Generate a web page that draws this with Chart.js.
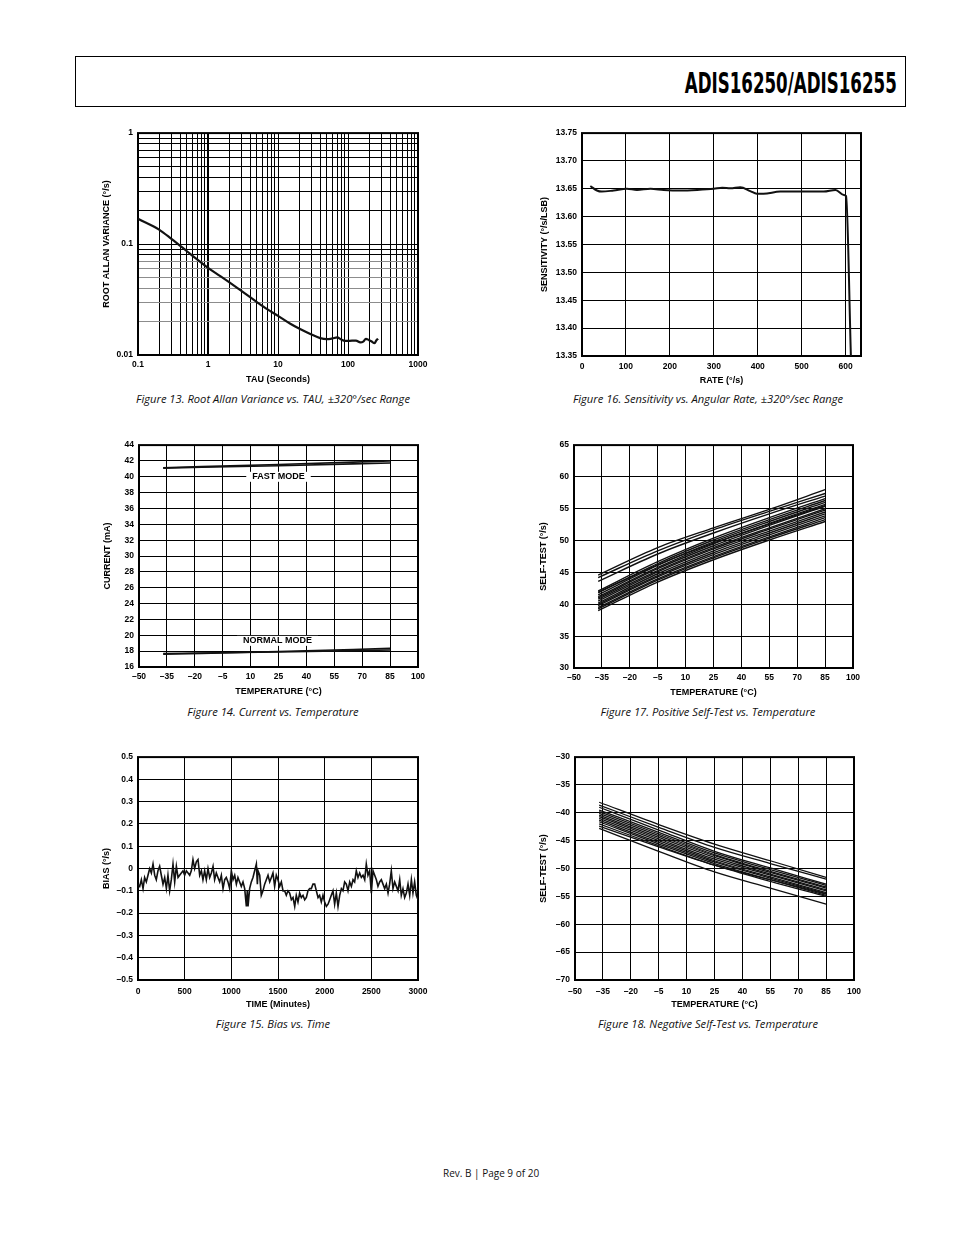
<!DOCTYPE html>
<html>
<head>
<meta charset="utf-8">
<script src="https://cdn.jsdelivr.net/npm/chart.js@4.4.1/dist/chart.umd.min.js"></script>
<style>
  body { margin: 0; background: #fff; }
  #page { position: relative; width: 954px; height: 1235px; overflow: hidden; background: #fff; }
  #header { position: absolute; left: 75px; top: 56px; width: 829px; height: 49px; border: 1px solid #000; }
  #doc-title { position: absolute; right: 8px; top: 12px; white-space: nowrap;
    font: bold 29px/29px "Liberation Sans Narrow", "DejaVu Sans Condensed", "Liberation Sans", sans-serif;
    transform-origin: right center; color: #000; }
  canvas { position: absolute; }
  .cap { position: absolute; transform: translateX(-50%); white-space: nowrap; color: #111;
    font: italic 11.2px/14px "Open Sans", "Noto Sans", sans-serif; }
  #footer { position: absolute; left: 443px; top: 1166px; white-space: nowrap; color: #111;
    font: 10px/14px "Open Sans", "Noto Sans", sans-serif; }
</style>
</head>
<body>
<div id="page">
  <div id="header"><span id="doc-title">ADIS16250/ADIS16255</span></div>

  <canvas id="allanChart"></canvas>
  <canvas id="sensChart"></canvas>
  <canvas id="currentChart"></canvas>
  <canvas id="posChart"></canvas>
  <canvas id="biasChart"></canvas>
  <canvas id="negChart"></canvas>

  <div class="cap" style="left:273px;top:392px">Figure 13. Root Allan Variance vs. TAU, ±320°/sec Range</div>
  <div class="cap" style="left:708px;top:392px">Figure 16. Sensitivity vs. Angular Rate, ±320°/sec Range</div>
  <div class="cap" style="left:273px;top:705px">Figure 14. Current vs. Temperature</div>
  <div class="cap" style="left:708px;top:705px">Figure 17. Positive Self-Test vs. Temperature</div>
  <div class="cap" style="left:273px;top:1017px">Figure 15. Bias vs. Time</div>
  <div class="cap" style="left:708px;top:1017px">Figure 18. Negative Self-Test vs. Temperature</div>

  <div id="footer">Rev. B | Page 9 of 20</div>
</div>

<script>
// ---- data ----

// Figure 13: root Allan variance
const tauSeconds = [0.1, 0.2, 0.3, 0.5, 0.7, 1, 1.5, 2, 3, 5, 7, 10, 15, 20, 30, 40, 50, 60,
  70, 80, 90, 100, 130, 150, 165, 180, 200, 215, 240, 255, 270];
const allanDev = [0.169, 0.135, 0.1114, 0.0861, 0.0726, 0.061, 0.0514, 0.0453, 0.0378, 0.030, 0.0259,
  0.0225, 0.0191, 0.0173, 0.0153, 0.0142, 0.0139, 0.0141, 0.0144, 0.0138, 0.0134, 0.0134, 0.0135,
  0.013, 0.0132, 0.014, 0.0136, 0.0133, 0.0128, 0.0136, 0.014];
const tauTicks = [0.1, 0.2, 0.3, 0.4, 0.5, 0.6, 0.7, 0.8, 0.9, 1, 2, 3, 4, 5, 6, 7, 8, 9,
  10, 20, 30, 40, 50, 60, 70, 80, 90, 100, 200, 300, 400, 500, 600, 700, 800, 900, 1000];
const tauLabels = [0.1, 1, 10, 100, 1000];
const allanTicks = [0.01, 0.02, 0.03, 0.04, 0.05, 0.06, 0.07, 0.08, 0.09,
  0.1, 0.2, 0.3, 0.4, 0.5, 0.6, 0.7, 0.8, 0.9, 1];
const allanLabels = [0.01, 0.1, 1];

// Figure 16: sensitivity vs. rate
const rateDps = [19, 34, 45, 72, 102, 125, 156, 186, 224, 262, 300, 319, 338, 360, 383, 398, 413, 451,
  489, 550, 577, 596, 601, 612];
const sensitivity = [13.655, 13.647, 13.645, 13.647, 13.650, 13.648, 13.650, 13.648, 13.647, 13.648,
  13.650, 13.652, 13.651, 13.653, 13.646, 13.641, 13.641, 13.645, 13.645, 13.645, 13.648, 13.639,
  13.637, 13.35];
const rateTicks = [0, 100, 200, 300, 400, 500, 600];
const sensTicks = [13.35, 13.40, 13.45, 13.50, 13.55, 13.60, 13.65, 13.70, 13.75];

// Figure 14: supply current
const currentTemps = [-37, 25, 85];
const fastModeA = [41.1, 41.4, 41.75];
const fastModeB = [41.15, 41.55, 42.0];
const normalModeA = [17.6, 17.95, 18.35];
const normalModeB = [17.7, 17.9, 18.15];
const currentTicks = [16, 18, 20, 22, 24, 26, 28, 30, 32, 34, 36, 38, 40, 42, 44];

// Figures 17 and 18: self-test, one row per device
const selfTestTemps = [-37, -5, 25, 55, 85];
const posSelfTest = [
  [44.6, 48.9, 52.0, 54.9, 58.0],
  [44.2, 48.4, 51.7, 54.6, 57.4],
  [43.6, 47.9, 51.2, 54.2, 57.0],
  [42.1, 46.7, 50.4, 53.6, 56.6],
  [41.9, 46.2, 49.6, 52.6, 55.5],
  [41.8, 46.4, 50.1, 53.3, 56.3],
  [41.5, 46.1, 49.8, 53.0, 56.0],
  [41.2, 45.8, 49.5, 52.7, 55.7],
  [41.0, 45.6, 49.2, 52.4, 55.4],
  [40.8, 45.3, 48.9, 52.0, 55.0],
  [40.5, 45.1, 48.7, 51.8, 54.8],
  [40.2, 44.8, 48.4, 51.5, 54.5],
  [40.0, 44.5, 48.1, 51.2, 54.2],
  [39.8, 44.3, 47.8, 50.9, 53.9],
  [39.5, 44.0, 47.5, 50.6, 53.6],
  [39.3, 43.8, 47.3, 50.4, 53.3],
  [39.0, 43.5, 47.0, 50.1, 53.0]
];
const negSelfTest = [
  [-38.1, -42.1, -45.6, -48.6, -51.6],
  [-38.6, -42.6, -46.2, -49.1, -51.9],
  [-39.0, -43.1, -46.9, -49.9, -52.8],
  [-39.5, -43.5, -47.2, -50.2, -53.0],
  [-39.8, -43.8, -47.5, -50.5, -53.3],
  [-40.1, -44.1, -47.7, -50.7, -53.5],
  [-40.4, -44.4, -48.0, -51.0, -53.8],
  [-40.7, -44.7, -48.3, -51.2, -54.0],
  [-41.0, -45.0, -48.6, -51.5, -54.3],
  [-41.3, -45.3, -48.8, -51.7, -54.5],
  [-41.6, -45.6, -49.1, -52.0, -54.8],
  [-42.0, -45.9, -49.4, -52.3, -55.0],
  [-42.4, -46.1, -49.4, -52.0, -54.6],
  [-42.8, -46.9, -50.6, -53.5, -56.4]
];
const tempTicks = [-50, -35, -20, -5, 10, 25, 40, 55, 70, 85, 100];
const posTicks = [30, 35, 40, 45, 50, 55, 60, 65];
const negTicks = [-70, -65, -60, -55, -50, -45, -40, -35, -30];

// Figure 15: bias drift
const timeMin = [
  0, 18, 36, 54, 71, 89, 107, 125, 143, 161,
  179, 196, 214, 232, 250, 268, 286, 304, 321, 339,
  357, 375, 393, 411, 429, 446, 464, 482, 500, 518,
  536, 554, 571, 589, 607, 625, 643, 661, 679, 696,
  714, 732, 750, 768, 786, 804, 821, 839, 857, 875,
  893, 911, 929, 946, 964, 982, 1000, 1018, 1036, 1054,
  1071, 1089, 1107, 1125, 1143, 1161, 1171, 1179, 1196, 1214,
  1232, 1250, 1268, 1279, 1286, 1304, 1321, 1339, 1357, 1375,
  1393, 1411, 1429, 1446, 1464, 1482, 1500, 1518, 1536, 1554,
  1571, 1589, 1607, 1625, 1643, 1661, 1679, 1696, 1714, 1732,
  1750, 1768, 1786, 1804, 1821, 1839, 1857, 1875, 1893, 1911,
  1929, 1946, 1964, 1982, 2000, 2018, 2036, 2054, 2071, 2089,
  2107, 2125, 2143, 2161, 2179, 2196, 2214, 2232, 2250, 2268,
  2286, 2304, 2321, 2339, 2357, 2375, 2393, 2411, 2429, 2446,
  2464, 2482, 2500, 2518, 2536, 2554, 2571, 2589, 2607, 2625,
  2643, 2661, 2679, 2696, 2714, 2732, 2750, 2768, 2786, 2804,
  2821, 2839, 2857, 2875, 2893, 2911, 2929, 2946, 2964, 2982,
  3000
];
const biasDps = [
  -0.07, -0.08, -0.05, -0.09, -0.04, -0.06, -0.03, 0.00, -0.02, 0.02,
  -0.03, -0.05, -0.01, 0.01, -0.03, -0.07, -0.04, -0.09, -0.03, -0.10,
  -0.05, 0.02, -0.06, 0.01, -0.04, -0.03, -0.02, -0.01, -0.03, -0.01,
  -0.02, -0.03, -0.01, 0.04, 0.00, 0.03, 0.04, -0.03, -0.01, -0.05,
  -0.01, -0.05, 0.00, -0.04, -0.02, 0.01, -0.05, -0.02, -0.04, -0.06,
  -0.03, -0.09, -0.05, -0.04, -0.06, -0.09, -0.01, -0.05, -0.03, -0.07,
  -0.04, -0.06, -0.08, -0.06, -0.09, -0.17, -0.10, -0.17, -0.09, -0.06,
  -0.04, -0.01, 0.02, -0.07, -0.01, -0.03, -0.12, -0.10, -0.07, -0.05,
  -0.03, -0.06, -0.04, -0.02, -0.08, -0.03, -0.05, -0.08, -0.06, -0.10,
  -0.10, -0.12, -0.10, -0.11, -0.14, -0.13, -0.17, -0.12, -0.15, -0.11,
  -0.13, -0.12, -0.14, -0.13, -0.10, -0.09, -0.09, -0.07, -0.07, -0.10,
  -0.13, -0.12, -0.15, -0.12, -0.15, -0.17, -0.16, -0.14, -0.12, -0.10,
  -0.16, -0.11, -0.17, -0.12, -0.09, -0.10, -0.06, -0.07, -0.10, -0.06,
  -0.08, -0.05, -0.06, -0.01, -0.04, -0.02, -0.04, -0.03, -0.05, 0.02,
  -0.03, -0.01, -0.11, -0.01, -0.03, -0.05, -0.08, -0.06, -0.05, -0.07,
  -0.09, -0.07, -0.11, -0.07, -0.01, -0.09, -0.06, -0.08, -0.10, -0.05,
  -0.12, -0.09, -0.13, -0.11, -0.07, -0.12, -0.05, -0.11, -0.06, -0.12,
  -0.14
];
const timeTicks = [0, 500, 1000, 1500, 2000, 2500, 3000];
const biasTicks = [-0.5, -0.4, -0.3, -0.2, -0.1, 0, 0.1, 0.2, 0.3, 0.4, 0.5];

// ---- layout of each canvas around its plot area ----
const AXIS_W = 50;   // room for y ticks + y title
const AXIS_H = 32;   // room for x ticks + x title
const PAD_T = 10;
const PAD_R = 20;
const FONT = '"Liberation Sans", Arial, Helvetica, sans-serif';

Chart.defaults.font.family = FONT;
Chart.defaults.color = '#000';

const dash = s => String(s).replace('-', '\u2013');
const pts = (xs, ys) => xs.map((x, i) => ({ x: x, y: ys[i] }));

// Draws the heavy frame round the plot area
const framePlugin = {
  id: 'frame',
  beforeDatasetsDraw(chart) {
    const { ctx, chartArea: a } = chart;
    ctx.save();
    ctx.strokeStyle = '#000';
    ctx.lineWidth = 2;
    ctx.strokeRect(a.left, a.top, a.right - a.left, a.bottom - a.top);
    ctx.restore();
  }
};

// In-plot labels with a white box behind them (FAST MODE / NORMAL MODE)
const notesPlugin = {
  id: 'notes',
  afterDatasetsDraw(chart, args, opts) {
    const { ctx, scales } = chart;
    (opts.items || []).forEach(n => {
      ctx.save();
      ctx.font = 'bold 9px ' + FONT;
      const w = ctx.measureText(n.text).width;
      const px = scales.x.getPixelForValue(n.x);
      const py = scales.y.getPixelForValue(n.y);
      ctx.fillStyle = '#fff';
      ctx.fillRect(px - w / 2 - 6, py - 5, w + 12, 10);
      ctx.fillStyle = '#000';
      ctx.textAlign = 'center';
      ctx.textBaseline = 'middle';
      ctx.fillText(n.text, px, py);
      ctx.restore();
    });
  }
};

function axis(which, a) {
  return {
    type: a.type || 'linear',
    position: which === 'x' ? 'bottom' : 'left',
    min: a.min,
    max: a.max,
    afterBuildTicks: s => { s.ticks = a.ticks.map(v => ({ value: v })); },
    afterFit: s => { if (which === 'x') s.height = AXIS_H; else s.width = AXIS_W; },
    border: { display: false },
    grid: { color: a.gridColor || '#000', lineWidth: a.gridWidth || 1, drawTicks: false },
    ticks: {
      autoSkip: false,
      maxRotation: 0,
      padding: which === 'x' ? a.pad : 5,
      font: { size: 8.5, weight: 'bold' },
      callback: a.label
    },
    title: {
      display: true,
      text: a.title,
      font: { size: 9, weight: 'bold' },
      padding: which === 'x' ? { top: 0, bottom: 2 } : { top: AXIS_W - a.gap - 5.4, bottom: 0 }
    }
  };
}

function plotChart(canvasId, box, datasets, xAxis, yAxis, notes) {
  const canvas = document.getElementById(canvasId);
  canvas.width = AXIS_W + box.w + PAD_R;
  canvas.height = PAD_T + box.h + AXIS_H;
  canvas.style.left = (box.x - AXIS_W) + 'px';
  canvas.style.top = (box.y - PAD_T) + 'px';

  return new Chart(canvas.getContext('2d'), {
    type: 'line',
    data: {
      datasets: datasets.map(d => Object.assign({
        borderColor: '#111',
        borderWidth: 1.3,
        pointRadius: 0,
        fill: false,
        cubicInterpolationMode: 'monotone'
      }, d))
    },
    options: {
      responsive: false,
      animation: false,
      devicePixelRatio: 1,
      layout: { padding: { left: 0, top: PAD_T, right: PAD_R, bottom: 0 } },
      plugins: {
        legend: { display: false },
        tooltip: { enabled: false },
        notes: { items: notes || [] }
      },
      scales: { x: axis('x', xAxis), y: axis('y', yAxis) }
    },
    plugins: [framePlugin, notesPlugin]
  });
}

// Figure 13
plotChart('allanChart', { x: 138, y: 133, w: 280, h: 222 },
  [{ data: pts(tauSeconds, allanDev), borderWidth: 2.2 }],
  { type: 'logarithmic', min: 0.1, max: 1000, ticks: tauTicks, pad: 4.5, title: 'TAU (Seconds)',
    label: v => tauLabels.includes(v) ? String(v) : '',
    gridWidth: c => (c.tick && c.tick.value === 1) ? 2 : 1 },
  { type: 'logarithmic', min: 0.01, max: 1, ticks: allanTicks, gap: 31, title: 'ROOT ALLAN VARIANCE (°/s)',
    label: v => allanLabels.includes(v) ? String(v) : '',
    gridColor: c => (c.tick && c.tick.value > 0.015 && c.tick.value < 0.075) ? '#8c8c8c' : '#000' });

// Figure 16
plotChart('sensChart', { x: 582, y: 133, w: 279, h: 223 },
  [{ data: pts(rateDps, sensitivity), borderWidth: 2 }],
  { min: 0, max: 635, ticks: rateTicks, pad: 5.5, title: 'RATE (°/s)', label: v => String(v) },
  { min: 13.35, max: 13.75, ticks: sensTicks, gap: 37, title: 'SENSITIVITY (°/s/LSB)', label: v => v.toFixed(2) });

// Figure 14
plotChart('currentChart', { x: 139, y: 445, w: 279, h: 222 },
  [
    { data: pts(currentTemps, fastModeA), borderWidth: 1.6 },
    { data: pts(currentTemps, fastModeB), borderWidth: 1.6 },
    { data: pts(currentTemps, normalModeA), borderWidth: 1.6 },
    { data: pts(currentTemps, normalModeB), borderWidth: 1.6 }
  ],
  { min: -50, max: 100, ticks: tempTicks, pad: 5, title: 'TEMPERATURE (°C)', label: dash },
  { min: 16, max: 44, ticks: currentTicks, gap: 31, title: 'CURRENT (mA)', label: dash },
  [{ text: 'FAST MODE', x: 25, y: 40 }, { text: 'NORMAL MODE', x: 24.5, y: 19.3 }]);

// Figure 17
plotChart('posChart', { x: 574, y: 445, w: 279, h: 223 },
  posSelfTest.map(vals => ({ data: pts(selfTestTemps, vals), borderWidth: 1.4 })),
  { min: -50, max: 100, ticks: tempTicks, pad: 5, title: 'TEMPERATURE (°C)', label: dash },
  { min: 30, max: 65, ticks: posTicks, gap: 30, title: 'SELF-TEST (°/s)', label: dash });

// Figure 15
plotChart('biasChart', { x: 138, y: 757, w: 280, h: 223 },
  [{ data: pts(timeMin, biasDps), borderWidth: 1.6, cubicInterpolationMode: 'default', tension: 0 }],
  { min: 0, max: 3000, ticks: timeTicks, pad: 6.5, title: 'TIME (Minutes)', label: v => String(v) },
  { min: -0.5, max: 0.5, ticks: biasTicks, gap: 31, title: 'BIAS (°/s)',
    label: v => dash(v === 0 ? '0' : v.toFixed(1)) });

// Figure 18
plotChart('negChart', { x: 575, y: 757, w: 279, h: 223 },
  negSelfTest.map(vals => ({ data: pts(selfTestTemps, vals), borderWidth: 1.3 })),
  { min: -50, max: 100, ticks: tempTicks, pad: 6.5, title: 'TEMPERATURE (°C)', label: dash },
  { min: -70, max: -30, ticks: negTicks, gap: 31, title: 'SELF-TEST (°/s)', label: dash });

// squeeze the header title to the condensed width used in the datasheet
const docTitle = document.getElementById('doc-title');
docTitle.style.transform = 'scaleX(' + (212 / docTitle.getBoundingClientRect().width) + ')';
</script>
</body>
</html>
